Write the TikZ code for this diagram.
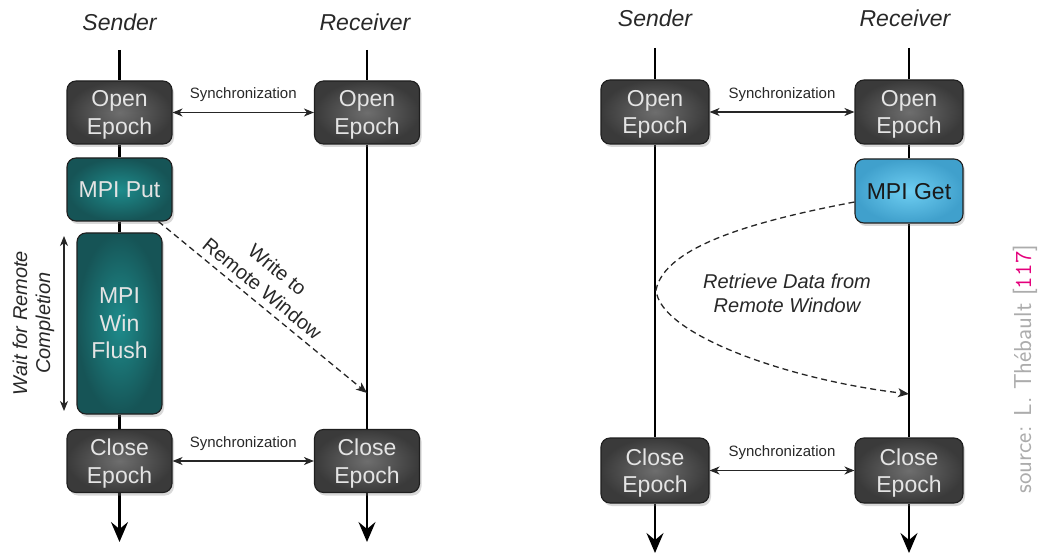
\documentclass[tikz,border=0pt]{standalone}
\usepackage{fontspec}
\setmainfont{Liberation Sans}
\usetikzlibrary{arrows.meta,shadows,backgrounds}
\definecolor{dkin}{RGB}{110,110,110}
\definecolor{dkout}{RGB}{58,58,58}
\definecolor{boxtext}{RGB}{228,228,228}
\definecolor{tlin}{RGB}{30,140,140}
\definecolor{tlout}{RGB}{22,84,86}
\definecolor{blin}{RGB}{110,206,242}
\definecolor{blout}{RGB}{64,160,204}
\definecolor{lbl}{RGB}{40,40,40}
\definecolor{srcgray}{RGB}{172,172,172}
\definecolor{srcmag}{RGB}{228,0,124}
\begin{document}
\begin{tikzpicture}[x=1pt,y=-1pt,
  box/.style={rounded corners=9pt, draw=black!88, line width=1.1pt, text=boxtext, align=center,
    font=\fontsize{23}{27.5}\selectfont, inner sep=0pt, text depth=0pt,
    drop shadow={shadow xshift=2pt, shadow yshift=-3pt, opacity=0.3}},
  darkbox/.style={box, inner color=dkin, outer color=dkout, minimum width=105pt, minimum height=63pt},
  tealbox/.style={box, inner color=tlin, outer color=tlout},
  bluebox/.style={box, inner color=blin, outer color=blout, text=black!90},
  life/.style={line width=2.2pt, draw=black},
  lifeend/.style={life, -{Stealth[length=20pt,width=17pt,inset=7pt]}},
  sync/.style={line width=1.1pt, draw=black!85, {Stealth[length=10pt,width=8pt,inset=3pt]}-{Stealth[length=10pt,width=8pt,inset=3pt]}},
  synclbl/.style={font=\fontsize{15}{18}\selectfont, text=lbl},
  dashconn/.style={line width=1.3pt, draw=black!85, dash pattern=on 6pt off 4pt, -{Stealth[length=11pt,width=9pt,inset=3pt]}},
  head/.style={font=\itshape\fontsize{23}{27}\selectfont, text=lbl},
  note/.style={font=\fontsize{20}{24}\selectfont, text=lbl, align=center}
]
\useasboundingbox (0,0) rectangle (1044,556);

% ---------- left diagram ----------
\node[head] (hS) at (119.5,22) {Sender};
\node[head] (hR) at (365,22) {Receiver};
\coordinate (sT) at (119.5,50);
\coordinate (sB) at (119.5,542);
\coordinate (rT) at (367,50);
\coordinate (rB) at (367,542);
\coordinate (wr) at (367,393);

\node[darkbox] (OpenS) at (119.5,112.5) {Open\\Epoch};
\node[darkbox] (OpenR) at (367,112.5) {Open\\Epoch};
\node[tealbox, minimum width=105pt, minimum height=63pt] (Put) at (119.5,189.5) {MPI Put};
\node[tealbox, minimum width=85pt, minimum height=181pt] (Flush) at (119.5,323.5) {MPI\\Win\\Flush};
\node[darkbox] (CloseS) at (119.5,461) {Close\\Epoch};
\node[darkbox] (CloseR) at (367,461) {Close\\Epoch};

\begin{scope}[on background layer]
\draw[life] (sT) -- (OpenS);
\draw[life] (OpenS) -- (Put);
\draw[life] (Put) -- (Flush);
\draw[life] (Flush) -- (CloseS);
\draw[lifeend] (CloseS) -- (sB);
\draw[life] (rT) -- (OpenR);
\draw[life] (OpenR) -- (CloseR);
\draw[lifeend] (CloseR) -- (rB);
\end{scope}

\draw[sync] (OpenS) -- (OpenR) node[midway, above=7pt, synclbl] (sy1) {Synchronization};
\draw[sync] (CloseS) -- (CloseR) node[midway, above=7pt, synclbl] (sy2) {Synchronization};

\draw[dashconn] (Put) -- (wr);
\node[note, rotate=-39.4] (wlbl) at (270,279) {Write to\\Remote Window};

\coordinate (wT) at (64,236);
\coordinate (wB) at (64,411);
\draw[line width=1.1pt, draw=black!85, {Stealth[length=10pt,width=8pt,inset=3pt]}-{Stealth[length=10pt,width=8pt,inset=3pt]}] (wT) -- (wB);
\node[note, font=\itshape\fontsize{20}{23}\selectfont, rotate=90] (wait) at (33.5,323) {Wait for Remote\\Completion};

% ---------- right diagram ----------
\node[head] (hS2) at (655,18.5) {Sender};
\node[head] (hR2) at (905,18.5) {Receiver};
\coordinate (s2T) at (655,48);
\coordinate (s2B) at (655,553);
\coordinate (r2T) at (909,48);
\coordinate (r2B) at (909,553);
\coordinate (rg) at (909,394);

\node[darkbox, minimum width=108pt, minimum height=64pt] (OpenS2) at (655,112) {Open\\Epoch};
\node[darkbox, minimum width=108pt, minimum height=64pt] (OpenR2) at (909,112) {Open\\Epoch};
\node[bluebox, minimum width=108pt, minimum height=64pt] (Get) at (909,191) {MPI Get};
\node[darkbox, minimum width=108pt, minimum height=65pt] (CloseS2) at (655,470.5) {Close\\Epoch};
\node[darkbox, minimum width=108pt, minimum height=65pt] (CloseR2) at (909,470.5) {Close\\Epoch};

\begin{scope}[on background layer]
\draw[life] (s2T) -- (OpenS2);
\draw[life] (OpenS2) -- (CloseS2);
\draw[lifeend] (CloseS2) -- (s2B);
\draw[life] (r2T) -- (OpenR2);
\draw[life] (OpenR2) -- (Get);
\draw[life] (Get) -- (CloseR2);
\draw[lifeend] (CloseR2) -- (r2B);
\end{scope}

\draw[sync] (OpenS2) -- (OpenR2) node[midway, above=7pt, synclbl] (sy3) {Synchronization};
\draw[sync] (CloseS2) -- (CloseR2) node[midway, above=7pt, synclbl] (sy4) {Synchronization};

\draw[dashconn] ([yshift=-11pt]Get.west) .. controls (760,220) and (665,245) .. (656,290)
   .. controls (660,335) and (790,380) .. (rg);
\node[note, font=\itshape\fontsize{20}{24}\selectfont] (rlbl) at (787,293) {Retrieve Data from\\Remote Window};

% ---------- source ----------
\node[rotate=90, text=srcgray, font=\sffamily\fontsize{24.5}{28}\selectfont, inner sep=0pt] (src) at (1025,369)
  {source: L. Th\'ebault [{\ttfamily\color{srcmag}117}]};
\end{tikzpicture}
\end{document}
